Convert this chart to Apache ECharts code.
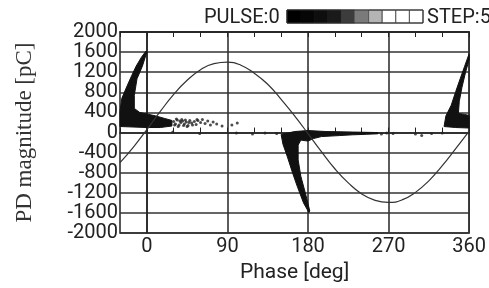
<!DOCTYPE html>
<html>
<head>
<meta charset="utf-8">
<script src="https://cdn.jsdelivr.net/npm/echarts@6/dist/echarts.min.js"></script>
<style>
html, body { margin: 0; background: #fff; }
#chart { width: 489px; height: 288px; }
</style>
</head>
<body>
<div id="chart"></div>
<script>
// Etiquetas de fase mostradas
const phaseLabels = [0, 90, 180, 270, 360];

// Onda de tension de referencia (fase, valor)
const voltageWave = [
    [-30, -600], [-15, -290], [0, 60], [15, 420], [30, 760], [45, 1040],
    [60, 1250], [75, 1370], [90, 1400], [105, 1340], [120, 1180], [135, 960],
    [150, 660], [165, 330], [180, -20], [195, -380], [210, -720], [225, -1000],
    [240, -1220], [255, -1350], [270, -1390], [285, -1340], [300, -1190],
    [315, -960], [330, -660], [345, -320], [360, 30]
];

// Nubes densas de descargas (contornos)
const cloudPos0 = [
    [-30, 120], [-30, 420], [-28, 680], [-22, 930], [-17, 1130], [-12, 1320],
    [-6, 1500], [-1, 1620], [0, 1600], [-5, 1320], [-11, 1070], [-14, 740],
    [-14, 480], [-8, 400], [0, 370], [10, 330], [20, 280], [28, 240],
    [28, 130], [15, 100], [0, 100], [-30, 120]
];
const cloudNeg180 = [
    [150, -40], [152, -230], [157, -485], [163, -815], [168, -1070], [175, -1400],
    [181, -1590], [182, -1560], [177, -1200], [172, -870], [169, -545], [169, -250],
    [172, -150], [180, -170], [186, -120], [195, -80], [215, -60], [230, -45],
    [245, -35], [258, -25], [258, 0], [230, 10], [200, 20], [180, 40], [165, 20], [150, -40]
];
const cloudPos360 = [
    [332, 120], [334, 330], [340, 545], [345, 815], [350, 1070], [355, 1320],
    [359, 1520], [360, 1560], [360, 1450], [356, 1200], [352, 900], [349, 620],
    [348, 380], [355, 360], [360, 340], [360, 90], [345, 100], [332, 120]
];

// Pulsos dispersos
const scatterPulses = [
    [30, 220], [31, 150], [32, 170], [33, 270], [34, 250], [35, 120], [36, 150],
    [37, 230], [38, 200], [39, 260], [40, 230], [41, 140], [42, 170], [43, 250],
    [44, 210], [45, 120], [46, 140], [47, 200], [48, 240], [50, 190], [51, 150],
    [53, 220], [55, 160], [56, 260], [57, 240], [60, 200], [62, 260], [65, 180],
    [68, 230], [71, 150], [74, 210], [78, 170], [84, 130], [95, 150], [101, 190],
    [29, 10], [59, -20], [100, -10], [118, -30], [132, -10], [145, -20],
    [262, -30], [268, -10], [275, -20],
    [300, -30], [307, -60], [318, -20], [330, -10]
];

// Escala de colores de la cabecera
const stepColors = ['#000', '#060606', '#0e0e0e', '#1a1a1a', '#3c3c3c', '#7a7a7a', '#b4b4b4', '#fff', '#fff', '#fff'];

const labelFont = "Roboto, 'Noto Sans', sans-serif";

function cloudSeries(points) {
    return {
        type: 'custom',
        coordinateSystem: 'cartesian2d',
        silent: true,
        data: points,
        renderItem: function(params, api) {
            if (params.dataIndex !== 0) return;
            return {
                type: 'polygon',
                shape: { points: points.map(p => api.coord(p)) },
                style: { fill: '#111', stroke: '#111', lineWidth: 1 }
            };
        }
    };
}

const chart = echarts.init(document.getElementById('chart'));

const barLeft = 287, barTop = 10, boxW = 13.6, boxH = 13;
const header = stepColors.map((c, i) => ({
    type: 'rect',
    shape: { x: barLeft + i * boxW, y: barTop, width: boxW, height: boxH },
    style: { fill: c, stroke: i >= 6 ? '#555' : c, lineWidth: 1 }
}));
header.push({
    type: 'rect',
    shape: { x: barLeft, y: barTop, width: boxW * stepColors.length, height: boxH },
    style: { fill: 'none', stroke: '#333', lineWidth: 1 }
});
header.push({
    type: 'text', left: 204, top: 8,
    style: { text: 'PULSE:0', font: '20px ' + labelFont, fill: '#222' }
});
header.push({
    type: 'text', left: 427, top: 8,
    style: { text: 'STEP:5', font: '20px ' + labelFont, fill: '#222' }
});

const option = {
    animation: false,
    backgroundColor: '#fff',
    graphic: header,
    grid: {
        left: 120, right: 4, top: 32, bottom: 51,
        show: true, borderColor: '#222', borderWidth: 1.5
    },
    xAxis: [
        {
            type: 'value', min: -30, max: 360, interval: 30,
            name: 'Phase [deg]', nameLocation: 'middle', nameGap: 25,
            nameTextStyle: { fontFamily: labelFont, fontSize: 21, color: '#222' },
            axisLine: { show: true, lineStyle: { color: '#222', width: 1.5 } },
            axisTick: { inside: true, length: 5, lineStyle: { color: '#222' } },
            axisLabel: {
                margin: 4, fontFamily: labelFont, fontSize: 20, color: '#222',
                formatter: v => phaseLabels.includes(v) ? String(v) : ''
            },
            splitLine: {
                show: true,
                lineStyle: { color: ['rgba(0,0,0,0)', '#333', 'rgba(0,0,0,0)'], width: 1.6 }
            }
        },
        {
            type: 'value', position: 'top', min: -30, max: 360, interval: 30,
            axisLine: { show: true, lineStyle: { color: '#222', width: 1.5 } },
            axisTick: { inside: true, length: 5, lineStyle: { color: '#222' } },
            axisLabel: { show: false },
            splitLine: { show: false }
        }
    ],
    yAxis: {
        type: 'value', min: -2000, max: 2000, interval: 400,
        name: 'PD magnitude [pC]', nameLocation: 'middle', nameGap: 84, nameRotate: 90,
        nameTextStyle: { fontFamily: "'Liberation Serif', 'Times New Roman', serif", fontSize: 23, color: '#333' },
        axisLine: { show: true, lineStyle: { color: '#222', width: 1.5 } },
        axisTick: { show: false },
        axisLabel: {
            margin: 2, fontFamily: labelFont, fontSize: 20, color: '#222',
            showMinLabel: true, showMaxLabel: true,
            formatter: v => String(v)
        },
        splitLine: { show: true, lineStyle: { color: '#333', width: 1.6 } }
    },
    series: [
        {
            type: 'line',
            data: voltageWave,
            smooth: true,
            showSymbol: false,
            silent: true,
            lineStyle: { color: '#333', width: 1.2 }
        },
        cloudSeries(cloudPos0),
        cloudSeries(cloudNeg180),
        cloudSeries(cloudPos360),
        {
            type: 'scatter',
            data: scatterPulses,
            symbolSize: 3,
            silent: true,
            itemStyle: { color: '#222' }
        }
    ]
};

chart.setOption(option);
</script>
</body>
</html>
